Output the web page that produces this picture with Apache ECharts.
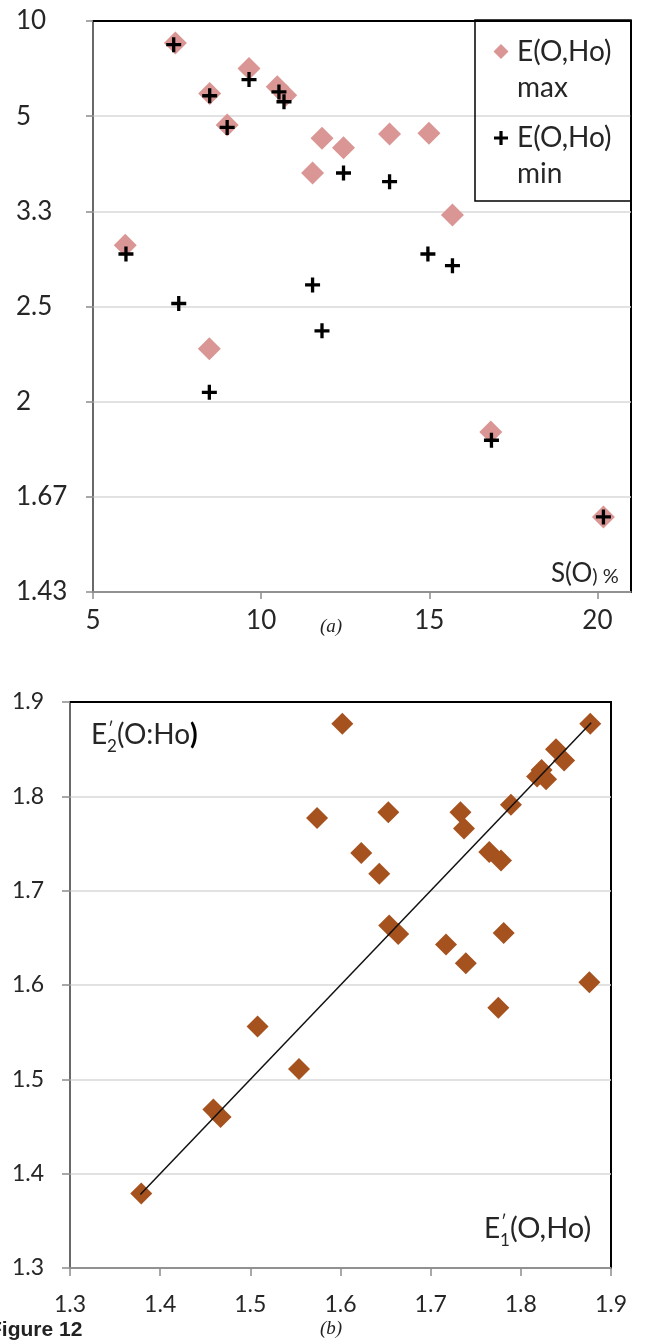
<!DOCTYPE html>
<html>
<head>
<meta charset="utf-8">
<script src="https://cdn.jsdelivr.net/npm/echarts@6/dist/echarts.min.js"></script>
<style>
html,body{margin:0;padding:0;background:#fff;}
#c{width:657px;height:1341px;}
</style>
</head>
<body>
<div id="c"></div>
<script>
// ---- Panel (a): S(O) % vs E(O,Ho) (reciprocal axis) ----
var sMax = [5.96, 7.45, 8.46, 8.47, 8.99, 9.64, 10.48, 10.73, 11.53, 11.81, 12.45, 13.82, 14.99, 15.69, 16.83, 20.18];
var eMax = [2.98, 8.12, 2.25, 5.68, 4.78, 6.67, 5.91, 5.62, 3.85, 4.48, 4.29, 4.57, 4.59, 3.29, 1.88, 1.61];
var sMin = [5.98, 7.40, 7.55, 8.47, 8.46, 8.99, 9.64, 10.53, 10.68, 11.53, 11.81, 12.45, 13.82, 14.96, 15.69, 16.85, 20.18];
var eMin = [2.90, 8.01, 2.52, 5.60, 2.04, 4.72, 6.19, 5.73, 5.41, 2.65, 2.35, 3.85, 3.72, 2.90, 2.80, 1.85, 1.61];
var aYTickLabels = ['10', '5', '3.3', '2.5', '2', '1.67', '1.43'];
var aXTicks = [5, 10, 15, 20];

// ---- Panel (b): E'1(O,Ho) vs E'2(O:Ho) ----
var e1 = [1.379, 1.459, 1.467, 1.508, 1.554, 1.574, 1.602, 1.623, 1.643, 1.653, 1.654, 1.664, 1.717, 1.733, 1.737, 1.739, 1.765, 1.775, 1.778, 1.781, 1.789, 1.818, 1.823, 1.828, 1.839, 1.848, 1.876, 1.877];
var e2 = [1.379, 1.468, 1.460, 1.556, 1.511, 1.777, 1.877, 1.740, 1.718, 1.783, 1.663, 1.654, 1.643, 1.783, 1.766, 1.623, 1.741, 1.576, 1.732, 1.655, 1.791, 1.821, 1.828, 1.818, 1.850, 1.838, 1.603, 1.877];
var lineX = [1.378, 1.878];
var lineY = [1.378, 1.878];

var PLUS = 'path://M3.9,0H6.1V3.9H10V6.1H6.1V10H3.9V6.1H0V3.9H3.9Z';
var PINK = '#D99694';
var BROWN = '#A5521F';
var FONT = 'Lato';
var TXT = '#262626';
var AXIS = '#8C8C8C';
var GRIDC = '#D9D9D9';

function pairs(xs, ys, f) { return xs.map(function (x, i) { return [x, f ? f(ys[i]) : ys[i]]; }); }
function recip(e) { return 10 / e; }
function diamondPts(cx, cy, s) { var h = s / 2; return [[cx, cy - h], [cx + h, cy], [cx, cy + h], [cx - h, cy]]; }
function plusPts(cx, cy, s, t) {
  var h = s / 2, a = t / 2;
  return [[cx - a, cy - h], [cx + a, cy - h], [cx + a, cy - a], [cx + h, cy - a], [cx + h, cy + a], [cx + a, cy + a],
          [cx + a, cy + h], [cx - a, cy + h], [cx - a, cy + a], [cx - h, cy + a], [cx - h, cy - a], [cx - a, cy - a]];
}
function txt(x, y, text, size, extra) {
  var st = {text: text, fontFamily: FONT, fontSize: size, fill: TXT, textVerticalAlign: 'middle', verticalAlign: 'middle'};
  if (extra) { for (var k in extra) st[k] = extra[k]; }
  return {type: 'text', x: x, y: y, style: st, z: 10};
}
function hline(x1, x2, y) {
  return {type: 'line', shape: {x1: x1, y1: y, x2: x2, y2: y}, style: {stroke: '#000', lineWidth: 2}, z: 9};
}

var chart = echarts.init(document.getElementById('c'), null, {renderer: 'canvas'});
var option = {
  animation: false,
  backgroundColor: '#fff',
  grid: [
    {left: 93, top: 21, right: 26, bottom: 749, show: true, borderColor: '#000', borderWidth: 2, containLabel: false},
    {left: 70, top: 702, right: 46, bottom: 73, show: true, borderColor: '#000', borderWidth: 2, containLabel: false}
  ],
  xAxis: [
    {gridIndex: 0, type: 'value', min: 5, max: 21, interval: 5,
     axisLine: {show: true, lineStyle: {color: AXIS, width: 1.5}},
     axisTick: {show: true, length: 7, lineStyle: {color: AXIS, width: 1.5}},
     axisLabel: {fontFamily: FONT, fontSize: 26, color: TXT, margin: 16, showMaxLabel: false,
       formatter: function (v) { return aXTicks.indexOf(v) >= 0 ? String(v) : ''; }},
     splitLine: {show: false}},
    {gridIndex: 1, type: 'value', min: 1.3, max: 1.9, interval: 0.1,
     axisLine: {show: true, lineStyle: {color: AXIS, width: 1.5}},
     axisTick: {show: true, length: 8, lineStyle: {color: AXIS, width: 1.5}},
     axisLabel: {fontFamily: FONT, fontSize: 23, color: TXT, margin: 25,
       formatter: function (v) { return v.toFixed(1); }},
     splitLine: {show: false}}
  ],
  yAxis: [
    {gridIndex: 0, type: 'value', min: 1, max: 7, interval: 1, inverse: true,
     axisLine: {show: true, lineStyle: {color: AXIS, width: 1.5}},
     axisTick: {show: true, length: 7, lineStyle: {color: AXIS, width: 1.5}},
     axisLabel: {fontFamily: FONT, fontSize: 26, color: TXT, margin: 77, align: 'left',
       formatter: function (v) { return aYTickLabels[Math.round(v) - 1] || ''; }},
     splitLine: {show: true, lineStyle: {color: GRIDC, width: 1.5}}},
    {gridIndex: 1, type: 'value', min: 1.3, max: 1.9, interval: 0.1,
     axisLine: {show: true, lineStyle: {color: AXIS, width: 1.5}},
     axisTick: {show: true, length: 8, lineStyle: {color: AXIS, width: 1.5}},
     axisLabel: {fontFamily: FONT, fontSize: 23, color: TXT, margin: 26,
       formatter: function (v) { return v.toFixed(1); }},
     splitLine: {show: true, lineStyle: {color: GRIDC, width: 1.5}}}
  ],
  series: [
    {name: 'E(O,Ho) max', type: 'scatter', xAxisIndex: 0, yAxisIndex: 0, symbol: 'diamond', symbolSize: 23,
     itemStyle: {color: PINK, opacity: 1}, data: pairs(sMax, eMax, recip), z: 2},
    {name: 'E(O,Ho) min', type: 'scatter', xAxisIndex: 0, yAxisIndex: 0, symbol: PLUS, symbolSize: 15,
     itemStyle: {color: '#000', opacity: 1}, data: pairs(sMin, eMin, recip), z: 3},
    {name: "E'2 vs E'1", type: 'scatter', xAxisIndex: 1, yAxisIndex: 1, symbol: 'diamond', symbolSize: 22,
     itemStyle: {color: BROWN, opacity: 1}, data: pairs(e1, e2), z: 2},
    {name: 'y = x', type: 'line', xAxisIndex: 1, yAxisIndex: 1, showSymbol: false, symbol: 'none',
     lineStyle: {color: '#111', width: 1.5}, data: pairs(lineX, lineY), z: 4}
  ],
  graphic: [
    // top plot-area borders (drawn over the first gridline)
    hline(93, 631, 21),
    hline(70, 611, 702),
    // legend box panel (a)
    {type: 'rect', shape: {x: 475, y: 20, width: 156, height: 181}, style: {fill: 'none', stroke: '#000', lineWidth: 1.5}, z: 10},
    {type: 'polygon', shape: {points: diamondPts(501, 51.5, 15)}, style: {fill: PINK}, z: 10},
    {type: 'polygon', shape: {points: plusPts(501, 138, 14, 3.2)}, style: {fill: '#000'}, z: 10},
    txt(517, 52, 'E(O,Ho)', 28),
    txt(517, 88, 'max', 28),
    txt(517, 138, 'E(O,Ho)', 28),
    txt(517, 174, 'min', 28),
    // x-axis name panel (a)
    txt(551, 574, '{a|S(O}{b|) %}', 26, {rich: {a: {fontFamily: FONT, fontSize: 26, fill: TXT, verticalAlign: 'bottom'}, b: {fontFamily: FONT, fontSize: 20, fill: TXT, verticalAlign: 'bottom'}}}),
    // caption (a)
    txt(331, 627, '(a)', 19, {fontFamily: 'Liberation Serif', fontStyle: 'italic', fill: '#222', textAlign: 'center', align: 'center'}),
    // y-axis name panel (b)
    txt(91, 735, 'E', 28),
    txt(107, 747, '2', 17),
    txt(108, 730, '\u2032', 17),
    txt(117, 735, '{a|(O:Ho}{b|)}', 28, {rich: {a: {fontFamily: FONT, fontSize: 28, fill: TXT}, b: {fontFamily: FONT, fontSize: 28, fontWeight: 'bold', fill: '#000'}}}),
    // x-axis name panel (b)
    txt(484, 1229, 'E', 28),
    txt(500, 1241, '1', 17),
    txt(501, 1223, '\u2032', 17),
    txt(510, 1229, '(O,Ho)', 29),
    // caption (b) and figure label
    txt(331, 1329, '(b)', 19, {fontFamily: 'Liberation Serif', fontStyle: 'italic', fill: '#222', textAlign: 'center', align: 'center'}),
    txt(-11, 1320, 'Figure 12', 21, {fontFamily: 'Liberation Sans', fontWeight: 'bold', fill: '#222', textVerticalAlign: 'top', verticalAlign: 'top'})
  ]
};
chart.setOption(option);
</script>
</body>
</html>
